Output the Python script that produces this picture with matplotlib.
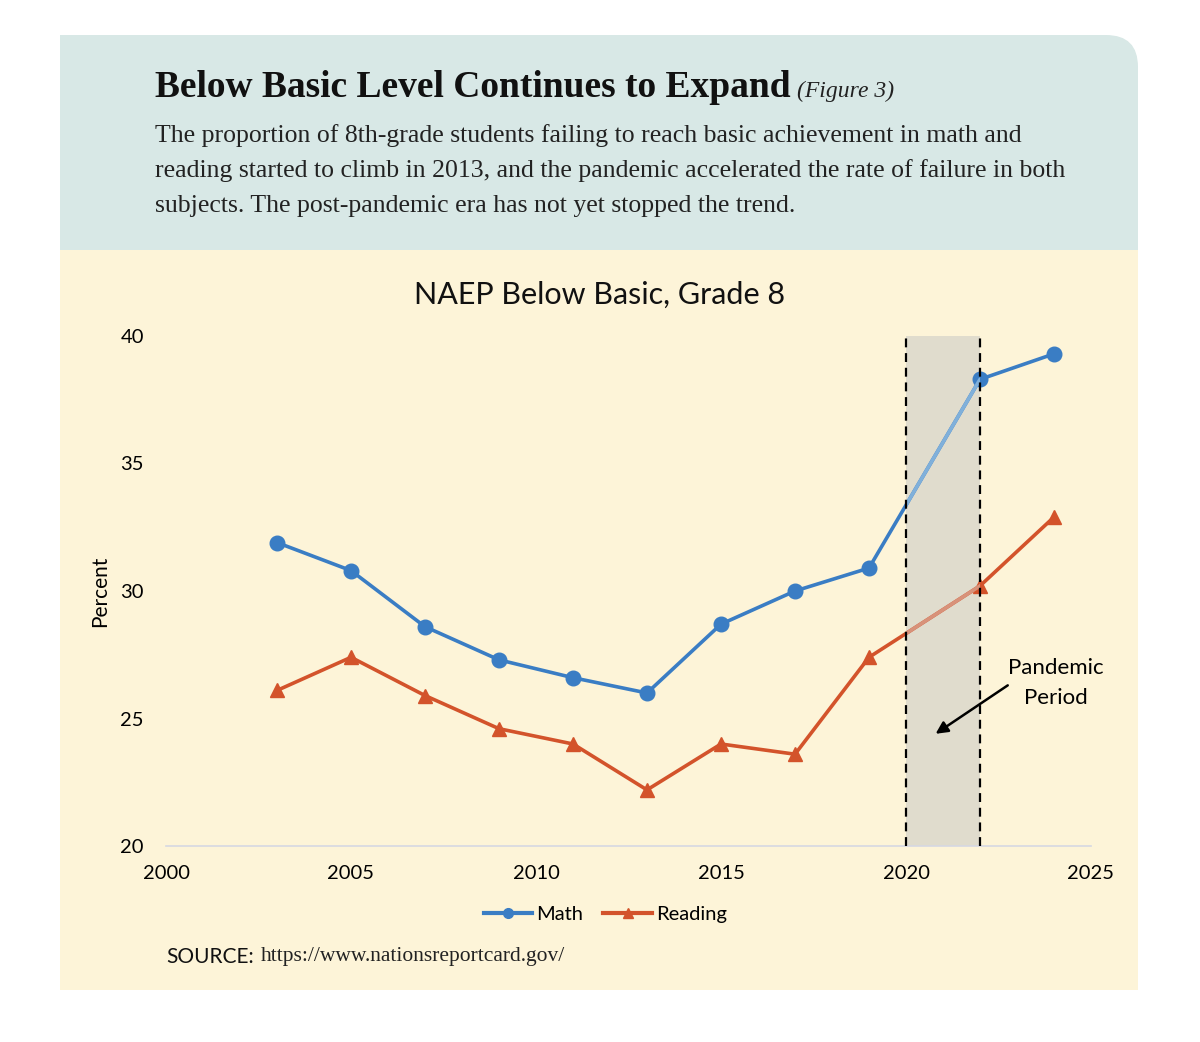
import matplotlib.pyplot as plt
from matplotlib.patches import Rectangle, FancyBboxPatch
from matplotlib.lines import Line2D

years_math = [2003, 2005, 2007, 2009, 2011, 2013, 2015, 2017, 2019, 2022, 2024]
math = [31.9, 30.8, 28.6, 27.3, 26.6, 26.0, 28.7, 30.0, 30.9, 38.3, 39.3]
years_reading = [2003, 2005, 2007, 2009, 2011, 2013, 2015, 2017, 2019, 2022, 2024]
reading = [26.1, 27.4, 25.9, 24.6, 24.0, 22.2, 24.0, 23.6, 27.4, 30.2, 32.9]
pandemic = [2020, 2022]

blue = "#3a7dc4"
blue_light = "#80b0da"
orange = "#d3532b"
orange_light = "#d8927a"
cream = "#fdf4d8"
header = "#d8e8e6"
band = "#e0dccd"
sans = "Lato"
serif = "Liberation Serif"

fig = plt.figure(figsize=(12, 10.42), dpi=100)
fig.patch.set_facecolor("white")

# background card, pixel coordinates
bg = fig.add_axes([0, 0, 1, 1], zorder=-1)
bg.set_xlim(0, 1200)
bg.set_ylim(1042, 0)
bg.axis("off")
bg.add_patch(FancyBboxPatch((60, 35), 1078, 215, boxstyle="round,pad=0,rounding_size=32",
                            fc=header, ec="none"))
bg.add_patch(Rectangle((60, 35), 60, 215, fc=header, ec="none"))
bg.add_patch(Rectangle((1000, 150), 138, 100, fc=header, ec="none"))
bg.add_patch(Rectangle((60, 250), 1078, 740, fc=cream, ec="none"))

title = bg.text(155, 97, "Below Basic Level Continues to Expand", family=serif,
                fontweight="bold", fontsize=27, color="#111111", va="baseline")
body = ["The proportion of 8th-grade students failing to reach basic achievement in math and",
        "reading started to climb in 2013, and the pandemic accelerated the rate of failure in both",
        "subjects. The post-pandemic era has not yet stopped the trend."]
for i, line in enumerate(body):
    bg.text(155, 142 + 35 * i, line, family=serif, fontsize=18.5, color="#222222",
            va="baseline")

bg.text(600, 295, "NAEP Below Basic, Grade 8", family=sans, fontsize=22,
        color="#111111", ha="center", va="center")
src = bg.text(166, 957, "SOURCE:", family=sans, fontsize=15, color="#111111", va="center")

fig.canvas.draw()
r = fig.canvas.get_renderer()
tx = title.get_window_extent(r).x1
bg.text(tx + 6, 97, "(Figure 3)", family=serif, style="italic", fontsize=17,
        color="#222222", va="baseline")
sx = src.get_window_extent(r).x1
bg.text(sx + 7, 957, "https://www.nationsreportcard.gov/", family=serif, fontsize=15.5,
        color="#222222", va="center")

# chart
ax = fig.add_axes([166 / 1200, 1 - 846 / 1042, (1091 - 166) / 1200, (846 - 336) / 1042])
ax.set_facecolor("none")
ax.axvspan(pandemic[0], pandemic[1], color=band, lw=0, zorder=1)
ax.plot(years_math, math, color=blue, lw=2.6, marker="o", ms=10.5, zorder=3)
ax.plot(years_reading, reading, color=orange, lw=2.6, marker="^", ms=10.5, zorder=3)

# lighter copy of the lines inside the pandemic band
clip = Rectangle((pandemic[0], 20), pandemic[1] - pandemic[0], 20, transform=ax.transData)
lm, = ax.plot(years_math, math, color=blue_light, lw=2.6, zorder=4)
lr, = ax.plot(years_reading, reading, color=orange_light, lw=2.6, zorder=4)
lm.set_clip_path(clip)
lr.set_clip_path(clip)

for x in pandemic:
    ax.axvline(x, color="black", lw=1.6, ls=(0, (4, 2.6)), zorder=5)

ax.text(2024.05, 26.4, "Pandemic\nPeriod", ha="center", va="center", family=sans,
        fontsize=16, linespacing=1.6, zorder=6)
ax.annotate("", xy=(2020.8, 24.4), xytext=(2022.75, 26.3),
            arrowprops=dict(arrowstyle="-|>", color="black", lw=1.8,
                            shrinkA=0, shrinkB=0, mutation_scale=18), zorder=6)

ax.set_xlim(2000, 2025)
ax.set_ylim(20, 40)
ax.set_xticks([2000, 2005, 2010, 2015, 2020, 2025])
ax.set_yticks([20, 25, 30, 35, 40])
ax.tick_params(length=0, labelsize=14.5)
for lab in ax.get_xticklabels() + ax.get_yticklabels():
    lab.set_family(sans)
ax.tick_params(axis="y", pad=16)
ax.tick_params(axis="x", pad=14)
for s in ["top", "right", "left"]:
    ax.spines[s].set_visible(False)
ax.spines["bottom"].set_color("#d6d8e2")
ax.spines["bottom"].set_linewidth(1.2)
ax.set_ylabel("Percent", family=sans, fontsize=15, labelpad=7)

handles = [Line2D([], [], color=blue, lw=3, marker="o", ms=7),
           Line2D([], [], color=orange, lw=3, marker="^", ms=7)]
ax.legend(handles, ["Math", "Reading"], loc="center", bbox_to_anchor=(0.475, -0.135),
          ncol=2, frameon=False, prop={"family": sans, "size": 14.5},
          handlelength=2.4, handletextpad=0.2, columnspacing=1.0)

fig.savefig("out.png", dpi=100, facecolor="white")
